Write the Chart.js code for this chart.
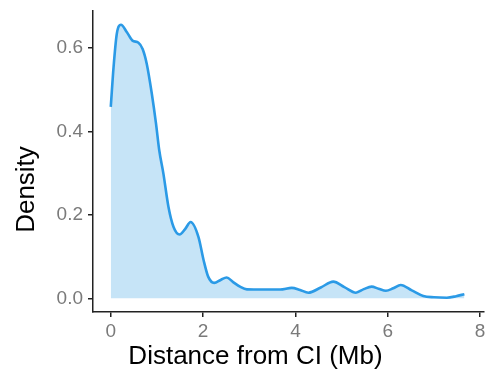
<!DOCTYPE html>
<html>
<head>
<meta charset="utf-8">
<script src="https://cdn.jsdelivr.net/npm/chart.js@4/dist/chart.umd.min.js"></script>
<style>
  html, body { margin: 0; padding: 0; background: #fff; }
  #wrap { width: 485px; height: 371px; }
</style>
</head>
<body>
<div id="wrap"><canvas id="density-chart"></canvas></div>
<script>
// density curve
const distMb = [0.00, 0.06, 0.13, 0.22, 0.35, 0.47, 0.60, 0.69, 0.78, 0.89, 0.98, 1.05,
    1.14, 1.25, 1.36, 1.49, 1.61, 1.73, 1.90, 2.01, 2.11, 2.24, 2.38, 2.51, 2.65, 2.80,
    2.95, 3.30, 3.67, 3.92, 4.10, 4.28, 4.55, 4.82, 5.06, 5.31, 5.48, 5.65, 5.80, 5.96,
    6.12, 6.28, 6.52, 6.77, 7.00, 7.28, 7.48, 7.66];
const density = [0.459, 0.554, 0.634, 0.656, 0.638, 0.618, 0.613, 0.598, 0.562, 0.490, 0.419, 0.355,
    0.299, 0.219, 0.171, 0.153, 0.166, 0.183, 0.147, 0.092, 0.052, 0.037, 0.044, 0.050, 0.039, 0.028,
    0.0215, 0.021, 0.021, 0.025, 0.020, 0.0135, 0.026, 0.040, 0.027, 0.0135, 0.022, 0.028, 0.023, 0.018,
    0.024, 0.032, 0.019, 0.0055, 0.0025, 0.0015, 0.005, 0.010];
const xTicks = [0, 2, 4, 6, 8];
const yTicks = [0.0, 0.2, 0.4, 0.6];

const xTitle = 'Distance from CI (Mb)';
const yTitle = 'Density';

const points = distMb.map((x, i) => ({ x: x, y: density[i] }));

const font = "'Liberation Sans', Arial, Helvetica, sans-serif";

// axis titles drawn slightly off-centre like the original
const axisTitles = {
    id: 'axisTitles',
    afterDraw(chart) {
        const c = chart.ctx;
        const a = chart.chartArea;
        c.save();
        c.fillStyle = '#000';
        c.font = '26px ' + font;
        c.textAlign = 'center';
        c.textBaseline = 'alphabetic';
        c.fillText(xTitle, 255.5, 364);
        c.translate(34, 189.5);
        c.rotate(-Math.PI / 2);
        c.fillText(yTitle, 0, 0);
        c.restore();
    }
};

new Chart(document.getElementById('density-chart'), {
    type: 'line',
    data: {
        datasets: [{
            data: points,
            borderColor: '#2b9ae6',
            borderWidth: 2.6,
            backgroundColor: '#c6e4f7',
            fill: 'origin',
            pointRadius: 0,
            cubicInterpolationMode: 'monotone'
        }]
    },
    options: {
        responsive: true,
        maintainAspectRatio: false,
        animation: false,
        layout: { padding: { top: 11, right: 1, left: 0, bottom: 0 } },
        plugins: {
            legend: { display: false },
            tooltip: { enabled: false }
        },
        scales: {
            x: {
                type: 'linear',
                min: -0.385,
                max: 8.085,
                afterFit: s => { s.height = 59; s.paddingLeft = 0; s.paddingRight = 0; },
                afterBuildTicks: s => { s.ticks = xTicks.map(v => ({ value: v })); },
                ticks: {
                    color: '#7a7a7a',
                    font: { family: font, size: 19 },
                    padding: 3,
                    maxRotation: 0,
                    callback: v => String(v)
                },
                grid: { drawOnChartArea: false, drawTicks: true, tickLength: 5, color: '#222', lineWidth: 1.5 },
                border: { color: '#222', width: 1.5 }
            },
            y: {
                min: -0.0328,
                max: 0.689,
                afterFit: s => { s.width = 93; s.paddingTop = 0; s.paddingBottom = 0; },
                afterBuildTicks: s => { s.ticks = yTicks.map(v => ({ value: v })); },
                ticks: {
                    color: '#7a7a7a',
                    font: { family: font, size: 19 },
                    padding: 5,
                    callback: v => v.toFixed(1)
                },
                grid: { drawOnChartArea: false, drawTicks: true, tickLength: 5, color: '#222', lineWidth: 1.5 },
                border: { color: '#222', width: 1.5 }
            }
        }
    },
    plugins: [axisTitles]
});
</script>
</body>
</html>
